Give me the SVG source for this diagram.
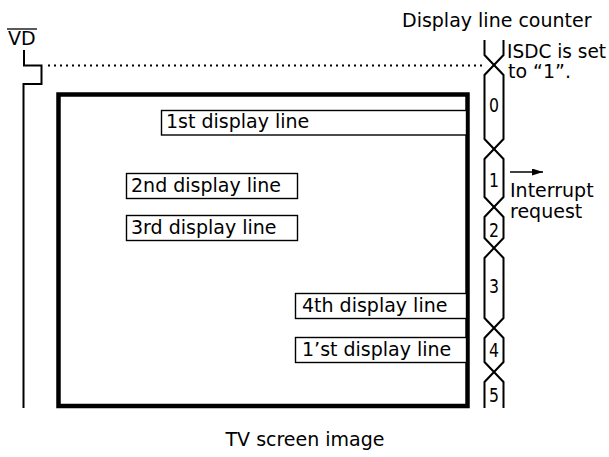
<svg xmlns="http://www.w3.org/2000/svg" width="609" height="457" viewBox="0 0 609 457">
<style>
text{font-family:"DejaVu Sans","Liberation Sans",sans-serif;font-size:19px;fill:#000}
.dg{font-size:20px;text-anchor:middle}
.ln{fill:none;stroke:#000;stroke-width:2}
.bx{fill:#fff;stroke:#000;stroke-width:1.4}
</style>
<defs>
<marker id="ah" markerWidth="11" markerHeight="7" refX="11" refY="3.5" orient="auto" markerUnits="userSpaceOnUse">
<path d="M0,0 L11,3.5 L0,7 Z" fill="#000"/>
</marker>
</defs>
<g id="vd-signal">
<text x="8" y="45">VD</text>
<line x1="7" y1="29" x2="37" y2="29" stroke="#000" stroke-width="1.3"/>
<polyline class="ln" points="24,50 24,65.5 41.5,65.5 41.5,84 23.5,84 23.5,408"/>
</g>
<g id="tv-screen">
<rect x="58.5" y="94.5" width="409" height="311.5" fill="none" stroke="#000" stroke-width="4.5"/>
<text x="305" y="446" text-anchor="middle">TV screen image</text>
</g>
<g id="line1">
<rect class="bx" x="161.5" y="110.5" width="305" height="24.5"/>
<text x="166" y="128">1st display line</text>
</g>
<g id="line2">
<rect class="bx" x="126.5" y="173.5" width="171" height="25"/>
<text x="131" y="192">2nd display line</text>
</g>
<g id="line3">
<rect class="bx" x="126.5" y="215.5" width="171" height="25"/>
<text x="131" y="234">3rd display line</text>
</g>
<g id="line4">
<rect class="bx" x="295.5" y="293.5" width="171" height="25"/>
<text x="302" y="312">4th display line</text>
</g>
<g id="line1b">
<rect class="bx" x="295.5" y="337.5" width="171" height="25"/>
<text x="302" y="356">1’st display line</text>
</g>
<g id="counter">
<text x="402" y="27">Display line counter</text>
<polyline class="ln" points="484.5,40 484.5,55 503.5,75 503.5,139 484.5,159 484.5,197 503.5,217 503.5,238 484.5,258 484.5,318 503.5,338 503.5,362 484.5,382 484.5,408"/>
<polyline class="ln" points="503.5,40 503.5,55 484.5,75 484.5,139 503.5,159 503.5,197 484.5,217 484.5,238 503.5,258 503.5,318 484.5,338 484.5,362 503.5,382 503.5,408"/>
<text class="dg" x="494" y="112" textLength="10" lengthAdjust="spacingAndGlyphs">0</text>
<text class="dg" x="494" y="187" textLength="10" lengthAdjust="spacingAndGlyphs">1</text>
<text class="dg" x="494" y="237" textLength="10" lengthAdjust="spacingAndGlyphs">2</text>
<text class="dg" x="494" y="293" textLength="10" lengthAdjust="spacingAndGlyphs">3</text>
<text class="dg" x="494" y="357" textLength="10" lengthAdjust="spacingAndGlyphs">4</text>
<text class="dg" x="494" y="402" textLength="10" lengthAdjust="spacingAndGlyphs">5</text>
</g>
<g id="isdc-label">
<text x="507" y="58" textLength="99" lengthAdjust="spacingAndGlyphs">ISDC is set</text>
<text x="508" y="78">to “1”.</text>
</g>
<g id="interrupt-label">
<text x="510" y="197">Interrupt</text>
<text x="510" y="218">request</text>
</g>
<g id="connectors">
<line x1="48" y1="65.5" x2="483" y2="65.5" stroke="#000" stroke-width="2" stroke-dasharray="2 4"/>
<line x1="510" y1="172" x2="543" y2="172" stroke="#000" stroke-width="1.5" marker-end="url(#ah)"/>
</g>
</svg>
